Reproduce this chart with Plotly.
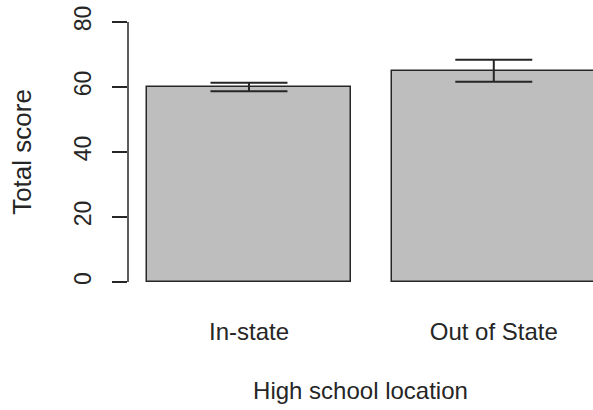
import plotly.graph_objects as go

# Mean total score by high school location, with error bar half-lengths
categories = ["In-state", "Out of State"]
means = [60.0, 65.0]
errors = [1.3, 3.35]
bar_centers = [0.7, 1.9]
y_ticks = [0, 20, 40, 60, 80]

FONT = "Liberation Sans, Arial, sans-serif"
INK = "#262626"

fig = go.Figure()
fig.add_trace(go.Bar(
    x=bar_centers,
    y=means,
    width=1.0,
    marker=dict(color="#bebebe", line=dict(color=INK, width=1.5)),
    error_y=dict(type="data", array=errors, visible=True,
                 color=INK, thickness=2, width=38.5),
    showlegend=False,
    hoverinfo="skip",
))

# Base-graphics style y axis: line spans only the tick range
fig.add_shape(type="line", xref="paper", yref="y",
              x0=0, x1=0, y0=y_ticks[0], y1=y_ticks[-1],
              line=dict(color=INK, width=1.5))

fig.update_layout(
    width=593, height=410,
    margin=dict(l=128, r=0, t=9, b=115),
    paper_bgcolor="white", plot_bgcolor="white",
    font=dict(family=FONT, size=23, color=INK),
    bargap=0,
    xaxis=dict(
        range=[0.107, 2.3863],
        tickmode="array", tickvals=bar_centers, ticktext=categories,
        tickfont=dict(size=24),
        ticks="", showline=False, showgrid=False, zeroline=False,
        ticklabelstandoff=20,
        title=dict(text="High school location", standoff=38,
                   font=dict(size=24)),
    ),
    yaxis=dict(
        range=[-4, 84],
        tickmode="array", tickvals=y_ticks,
        tickfont=dict(size=23),
        ticks="outside", ticklen=15, tickwidth=1.5, tickcolor=INK,
        tickangle=-90,
        showline=False, showgrid=False, zeroline=False,
        ticklabelstandoff=12,
        title=dict(text="Total score", standoff=30,
                   font=dict(size=26)),
    ),
)

fig.write_html("out.html")
